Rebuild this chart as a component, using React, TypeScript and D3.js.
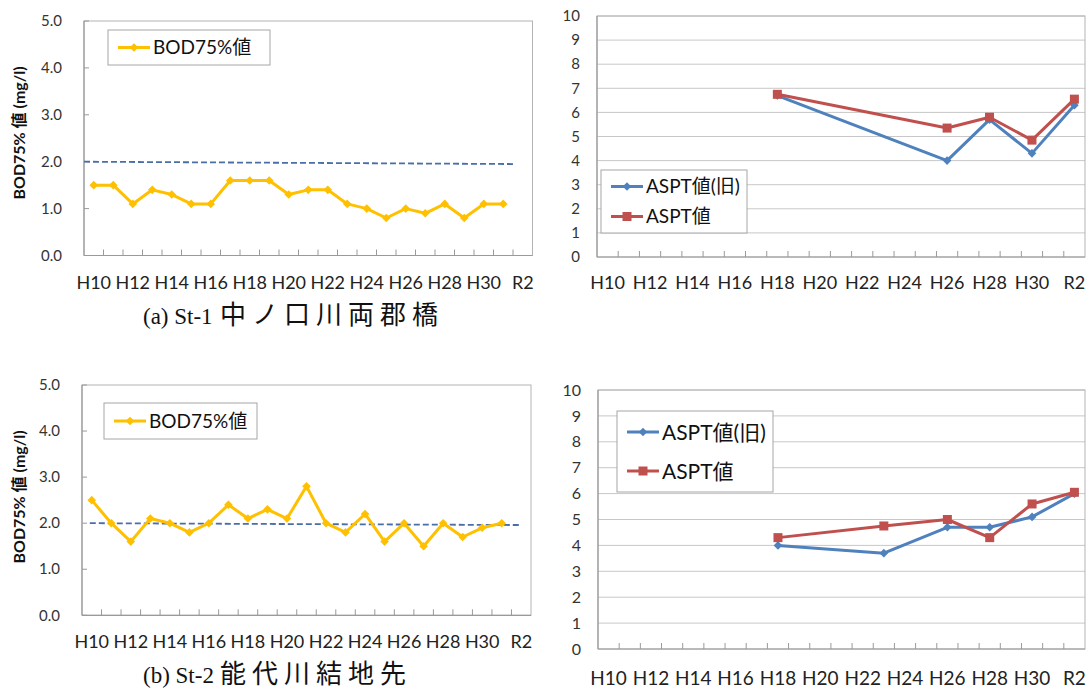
import React from "react";
import * as d3 from "d3";

const categories = ["H10","H11","H12","H13","H14","H15","H16","H17","H18","H19","H20","H21","H22","H23","H24","H25","H26","H27","H28","H29","H30","H31","R2"];
const xTickLabels = ["H10","H12","H14","H16","H18","H20","H22","H24","H26","H28","H30","R2"];

const bodYears = ["H10","H11","H12","H13","H14","H15","H16","H17","H18","H19","H20","H21","H22","H23","H24","H25","H26","H27","H28","H29","H30","H31"];
const bodSt1 = [1.5,1.5,1.1,1.4,1.3,1.1,1.1,1.6,1.6,1.6,1.3,1.4,1.4,1.1,1.0,0.8,1.0,0.9,1.1,0.8,1.1,1.1];
const bodSt2 = [2.5,2.0,1.6,2.1,2.0,1.8,2.0,2.4,2.1,2.3,2.1,2.8,2.0,1.8,2.2,1.6,2.0,1.5,2.0,1.7,1.9,2.0];
const standardSt1 = [2.0, 1.95];
const standardSt2 = [2.0, 1.96];

const asptYearsSt1 = ["H18","H26","H28","H30","R2"];
const asptOldSt1 = [6.7,4.0,5.7,4.3,6.3];
const asptNewSt1 = [6.75,5.35,5.8,4.85,6.55];

const asptYearsSt2 = ["H18","H23","H26","H28","H30","R2"];
const asptOldSt2 = [4.0,3.7,4.7,4.7,5.1,6.0];
const asptNewSt2 = [4.3,4.75,5.0,4.3,5.6,6.05];

const bodTicks = [0,1,2,3,4,5];
const asptTicks = [0,1,2,3,4,5,6,7,8,9,10];

const captionLabels = ["(a) St-1", "(b) St-2"];
const captionNames = ["中ノ口川両郡橋", "能代川結地先"];
const bodLabel = "BOD75% 値 (mg/l)";
const legendBod = "BOD75%値";
const legendOld = "ASPT値(旧)";
const legendNew = "ASPT値";

const FONT = "Lato, 'Noto Sans CJK JP', sans-serif";
const SERIF = "'Liberation Serif', 'Noto Sans CJK JP', serif";
const GOLD = "#FFC000";
const BLUE = "#4F81BD";
const RED = "#C0504D";
const DASH = "#4A6EA8";

type Series = { years: string[]; values: number[]; color: string; marker: "diamond" | "square"; name: string };

function Marker({ x, y, kind, color, size }: { x: number; y: number; kind: string; color: string; size: number }) {
  if (kind === "square") {
    return <rect x={x - size / 2} y={y - size / 2} width={size} height={size} fill={color} />;
  }
  const s = size / 2 + 0.8;
  return <path d={`M${x},${y - s}L${x + s},${y}L${x},${y + s}L${x - s},${y}Z`} fill={color} />;
}

function Panel(props: {
  left: number; right: number; top: number; bottom: number;
  yMax: number; ticks: number[]; fmt: (v: number) => string; grid: boolean;
  series: Series[]; standard?: { values: number[]; start: number; end: number };
  legend: { x: number; y: number; w: number; h: number; rowGap: number; fontSize: number };
  yLabel?: { x: number; y: number };
  xLabelY: number; tickFont: number; xFont: number; tickGap: number;
}) {
  const { left, right, top, bottom, yMax, ticks, fmt, grid, series, standard, legend, yLabel, xLabelY, tickFont, xFont, tickGap } = props;
  const x = d3.scaleBand<string>().domain(categories).range([left, right]).paddingInner(0).paddingOuter(0);
  const y = d3.scaleLinear().domain([0, yMax]).range([bottom, top]);
  const cx = (c: string) => (x(c) as number) + x.bandwidth() / 2;
  const line = d3.line<[number, number]>().x(d => d[0]).y(d => d[1]);
  const boundaries = categories.slice(1).map(c => x(c) as number);
  return (
    <g>
      {grid && ticks.filter(t => t > 0).map(t => (
        <line key={"g" + t} x1={left} x2={right} y1={y(t)} y2={y(t)} stroke="#C8C8C8" strokeWidth={1} />
      ))}
      <rect x={left} y={top} width={right - left} height={bottom - top} fill="none" stroke="#B4B4B4" strokeWidth={1} />
      <line x1={left} x2={right} y1={bottom} y2={bottom} stroke="#9A9A9A" strokeWidth={1.2} />
      <line x1={left} x2={left} y1={top} y2={bottom} stroke="#9A9A9A" strokeWidth={1.2} />
      {boundaries.map((b, i) => (
        <line key={"xt" + i} x1={b} x2={b} y1={bottom} y2={bottom - 6} stroke="#9A9A9A" strokeWidth={1} />
      ))}
      {!grid && ticks.map(t => (
        <line key={"yt" + t} x1={left} x2={left + 5} y1={y(t)} y2={y(t)} stroke="#9A9A9A" strokeWidth={1} />
      ))}
      {ticks.map(t => (
        <text key={"yl" + t} x={left - tickGap} y={y(t)} dy="0.35em" textAnchor="end" fontFamily={FONT} fontSize={tickFont} fill="#333">{fmt(t)}</text>
      ))}
      {xTickLabels.map(c => (
        <text key={"xl" + c} x={cx(c)} y={xLabelY} dy="0.35em" textAnchor="middle" fontFamily={FONT} fontSize={xFont} fill="#222">{c}</text>
      ))}
      {standard && (
        <path d={line([[standard.start, y(standard.values[0])], [standard.end, y(standard.values[1])]]) as string}
          stroke={DASH} strokeWidth={1.8} strokeDasharray="6,3" fill="none" />
      )}
      {series.map((s, si) => {
        const pts: [number, number][] = s.years.map((yr, i) => [cx(yr), y(s.values[i])]);
        return (
          <g key={"s" + si}>
            <path d={line(pts) as string} stroke={s.color} strokeWidth={3} fill="none" strokeLinejoin="round" />
            {pts.map((p, i) => <Marker key={i} x={p[0]} y={p[1]} kind={s.marker} color={s.color} size={s.marker === "square" ? 9 : 7} />)}
          </g>
        );
      })}
      <rect x={legend.x} y={legend.y} width={legend.w} height={legend.h} fill="#fff" stroke="#A6A6A6" strokeWidth={1} />
      {series.map((s, si) => {
        const ly = legend.y + legend.rowGap * (si + 0.5) + (legend.h - legend.rowGap * series.length) / 2;
        const lx = legend.x + 10;
        return (
          <g key={"lg" + si}>
            <line x1={lx} x2={lx + 32} y1={ly} y2={ly} stroke={s.color} strokeWidth={3} />
            <Marker x={lx + 16} y={ly} kind={s.marker} color={s.color} size={s.marker === "square" ? 9 : 7} />
            <text x={lx + 35} y={ly} dy="0.36em" fontFamily={FONT} fontSize={legend.fontSize} fill="#111">{s.name}</text>
          </g>
        );
      })}
      {yLabel && (
        <text transform={`translate(${yLabel.x},${yLabel.y}) rotate(-90)`} textAnchor="middle" dy="0.35em"
          fontFamily={FONT} fontWeight="bold" fontSize={16} fill="#111">{bodLabel}</text>
      )}
    </g>
  );
}

function Caption({ x, y, i }: { x: number; y: number; i: number }) {
  return (
    <text x={x} y={y} dy="0.35em" fill="#111">
      <tspan fontFamily={SERIF} fontSize={23}>{captionLabels[i]}</tspan>
      <tspan x={x + 77} fontFamily={SERIF} fontSize={26} letterSpacing={6}>{captionNames[i]}</tspan>
    </text>
  );
}

export default function App() {
  const f1 = (v: number) => v.toFixed(1);
  const f0 = (v: number) => String(v);
  const bandL = (448.5) / 23;
  return (
    <svg width={1090} height={693} style={{ position: "absolute", left: 0, top: 0, background: "#fff" }}>
      <rect width={1090} height={693} fill="#fff" />
      <Panel left={84} right={532.5} top={21} bottom={255.5} yMax={5} ticks={bodTicks} fmt={f1} grid={false}
        series={[{ years: bodYears, values: bodSt1, color: GOLD, marker: "diamond", name: legendBod }]}
        standard={{ values: standardSt1, start: 84, end: 84 + bandL * 22.1 }}
        legend={{ x: 108, y: 30, w: 162, h: 35, rowGap: 35, fontSize: 19 }}
        yLabel={{ x: 19, y: 133 }} xLabelY={283} tickFont={15} xFont={18} tickGap={22} />
      <Panel left={597} right={1085} top={16} bottom={257} yMax={10} ticks={asptTicks} fmt={f0} grid={true}
        series={[
          { years: asptYearsSt1, values: asptOldSt1, color: BLUE, marker: "diamond", name: legendOld },
          { years: asptYearsSt1, values: asptNewSt1, color: RED, marker: "square", name: legendNew },
        ]}
        legend={{ x: 601, y: 170, w: 146, h: 63, rowGap: 30, fontSize: 19 }}
        xLabelY={283} tickFont={15} xFont={18} tickGap={17} />
      <Panel left={82} right={531} top={385} bottom={615.3} yMax={5} ticks={bodTicks} fmt={f1} grid={false}
        series={[{ years: bodYears, values: bodSt2, color: GOLD, marker: "diamond", name: legendBod }]}
        standard={{ values: standardSt2, start: 82 + 19.52 * 0.4, end: 82 + 19.52 * 22.4 }}
        legend={{ x: 104, y: 403, w: 153, h: 36, rowGap: 36, fontSize: 19 }}
        yLabel={{ x: 19, y: 497 }} xLabelY={642} tickFont={15} xFont={18} tickGap={22} />
      <Panel left={598} right={1085} top={390} bottom={649} yMax={10} ticks={asptTicks} fmt={f0} grid={true}
        series={[
          { years: asptYearsSt2, values: asptOldSt2, color: BLUE, marker: "diamond", name: legendOld },
          { years: asptYearsSt2, values: asptNewSt2, color: RED, marker: "square", name: legendNew },
        ]}
        legend={{ x: 617, y: 411, w: 156, h: 81, rowGap: 39, fontSize: 21 }}
        xLabelY={678} tickFont={16} xFont={19} tickGap={17} />
      <Caption x={143} y={318} i={0} />
      <Caption x={143} y={677} i={1} />
    </svg>
  );
}
